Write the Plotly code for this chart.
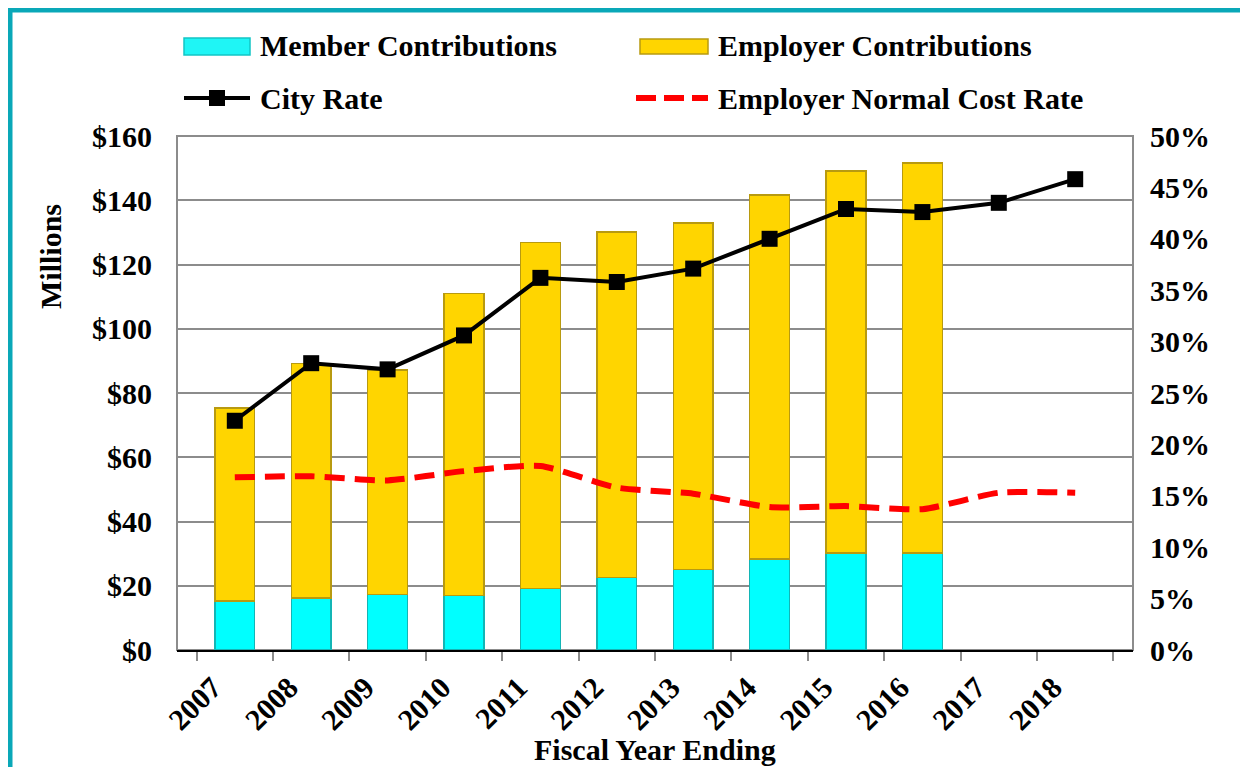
import plotly.graph_objects as go

years = ['2007', '2008', '2009', '2010', '2011', '2012', '2013', '2014', '2015', '2016', '2017', '2018']
bar_years = years[:10]
member = [15.2, 16.2, 17.3, 16.9, 19.2, 22.5, 25.0, 28.3, 30.2, 30.2]
employer = [60.1, 73.0, 69.9, 94.1, 107.6, 107.6, 107.9, 113.3, 118.9, 121.4]
city_rate = [22.3, 27.9, 27.3, 30.6, 36.2, 35.8, 37.1, 40.0, 42.9, 42.6, 43.5, 45.8]
normal_cost = [16.8, 16.9, 16.5, 17.4, 17.9, 15.8, 15.2, 13.9, 14.0, 13.7, 15.3, 15.3]

OFF = 8  # page body margin
W, H = 1248 - 2 * OFF, 775 - 2 * OFF
# plot area in reference-pixel coordinates
L, R, T, B = 177, 1133, 136, 650
FONT = dict(family="Liberation Serif, Times New Roman, serif", size=30, color="black", weight="bold")


def px(x):
    return (x - L) / (R - L)


def py(y):
    return (B - y) / (B - T)


fig = go.Figure()
fig.add_trace(go.Bar(x=bar_years, y=member, name="Member Contributions",
                     marker=dict(color="#00FFFF", line=dict(color="#13B5B5", width=1.5)),
                     showlegend=False))
fig.add_trace(go.Bar(x=bar_years, y=employer, name="Employer Contributions",
                     marker=dict(color="#FFD500", line=dict(color="#B89A10", width=1.5)),
                     showlegend=False))
fig.add_trace(go.Scatter(x=years, y=city_rate, name="City Rate", yaxis="y2", mode="lines+markers",
                         line=dict(color="black", width=4),
                         marker=dict(symbol="square", size=16, color="black"),
                         showlegend=False))
fig.add_trace(go.Scatter(x=years, y=normal_cost, name="Employer Normal Cost Rate", yaxis="y2", mode="lines",
                         line=dict(color="#FF0000", width=6, dash="20px,10px", shape="spline", smoothing=0.6),
                         showlegend=False))

shapes = []
# teal outer border
shapes.append(dict(type="rect", xref="paper", yref="paper", x0=px(10), x1=px(1262), y0=py(10), y1=py(790),
                   line=dict(color="#0AA8B8", width=5), layer="below"))
# plot frame
shapes.append(dict(type="rect", xref="paper", yref="paper", x0=0, x1=1, y0=0, y1=1,
                   line=dict(color="#8C8C8C", width=2), layer="below"))
# legend symbols
shapes.append(dict(type="rect", xref="paper", yref="paper", x0=px(184), x1=px(250), y0=py(55), y1=py(38),
                   fillcolor="#1FF5F5", line=dict(color="#13C5C5", width=1.5)))
shapes.append(dict(type="rect", xref="paper", yref="paper", x0=px(640), x1=px(708), y0=py(54), y1=py(39),
                   fillcolor="#FFD500", line=dict(color="#B89A10", width=1.5)))
shapes.append(dict(type="line", xref="paper", yref="paper", x0=px(184), x1=px(250), y0=py(98), y1=py(98),
                   line=dict(color="black", width=4)))
shapes.append(dict(type="rect", xref="paper", yref="paper", x0=px(209), x1=px(225), y0=py(106), y1=py(90),
                   fillcolor="black", line=dict(color="black", width=0)))
shapes.append(dict(type="line", xref="paper", yref="paper", x0=px(636), x1=px(708), y0=py(98), y1=py(98),
                   line=dict(color="#FF0000", width=6, dash="20px,8px")))

annotations = []
for txt, x, y in [("Member Contributions", 258, 46), ("Employer Contributions", 716, 46),
                  ("City Rate", 258, 98), ("Employer Normal Cost Rate", 716, 98)]:
    annotations.append(dict(text=txt, xref="paper", yref="paper", x=px(x), y=py(y),
                            xanchor="left", yanchor="middle", showarrow=False, font=FONT))
annotations.append(dict(text="Millions", xref="paper", yref="paper", x=px(50), y=py(257),
                        xanchor="center", yanchor="middle", textangle=-90, showarrow=False, font=FONT))
annotations.append(dict(text="Fiscal Year Ending", xref="paper", yref="paper", x=0.5, y=py(749),
                        xanchor="center", yanchor="middle", showarrow=False, font=FONT))

fig.update_layout(
    width=W, height=H, autosize=False,
    margin=dict(l=L - OFF, r=W - (R - OFF), t=T - OFF, b=H - (B - OFF), pad=0),
    paper_bgcolor="white", plot_bgcolor="white",
    barmode="stack", bargap=0.48,
    showlegend=False,
    font=FONT,
    shapes=shapes, annotations=annotations,
    xaxis=dict(type="category", categoryorder="array", categoryarray=years,
               tickangle=-45, tickfont=FONT, showgrid=False,
               showline=True, linecolor="black", linewidth=2,
               ticks="outside", tickson="boundaries", ticklen=9, tickcolor="#8C8C8C", tickwidth=2,
               ticklabelshift=-22, ticklabelstandoff=6),
    yaxis=dict(range=[0, 160], dtick=20, tickprefix="$", tickfont=FONT,
               showgrid=True, gridcolor="#8C8C8C", gridwidth=1.5, zeroline=False,
               showline=False, ticks="", ticklabelstandoff=24),
    yaxis2=dict(range=[0, 50], dtick=5, ticksuffix="%", tickfont=FONT, overlaying="y", side="right",
                showgrid=False, zeroline=False, showline=False, ticks="", ticklabelstandoff=16),
)

fig.write_html("out.html")
